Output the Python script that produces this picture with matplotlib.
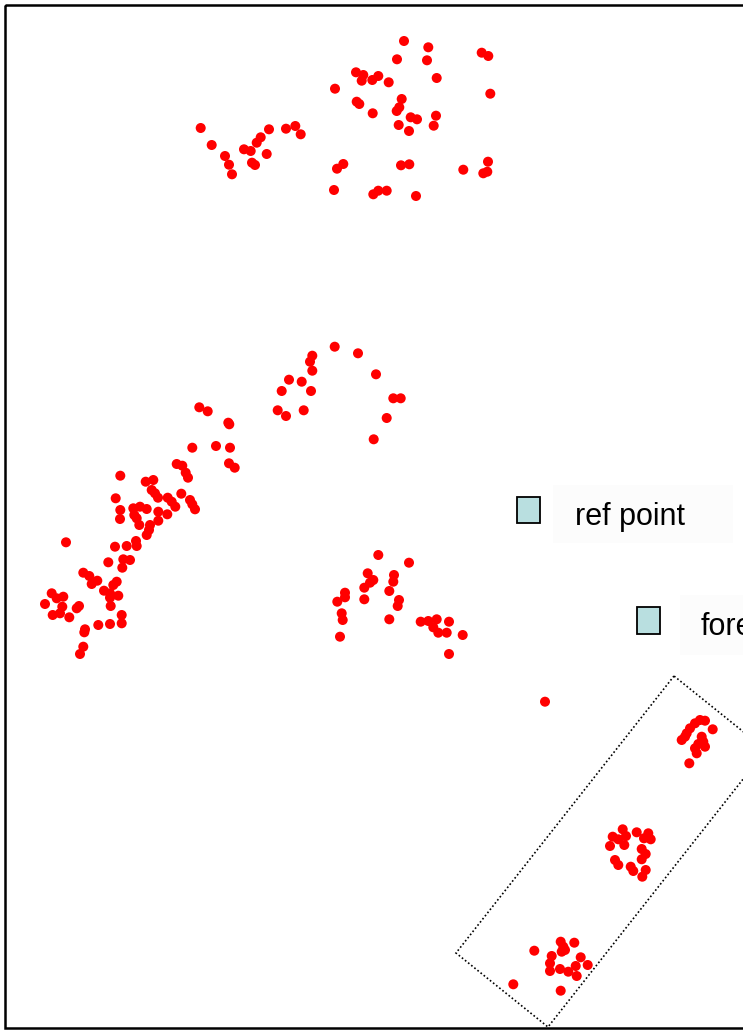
import matplotlib
matplotlib.use("Agg")
import matplotlib.pyplot as plt
from matplotlib.patches import Rectangle, Polygon

# Point positions (image-space units: x to the right, y downward)
x_top = [404, 428.3, 397, 427, 481.7, 488.3, 356, 363.3, 361.7, 372.3, 378.3, 388.7, 436.7, 335,
         490.3, 356.7, 359.3, 372.7, 401.7, 396.7, 399.3, 410.7, 417, 436, 398.7, 409, 433.7,
         200.7, 211.7, 225, 229, 232, 244, 250.7, 256.7, 260.7, 269, 266.7, 252, 255, 286, 295.3,
         300.7, 337, 343.3, 334, 401, 409.3, 463.3, 488, 483.3, 487.3, 373.3, 378.3, 386.7, 416]
y_top = [41, 47.3, 59.3, 60.3, 52.7, 56, 72.3, 75, 80.7, 80, 76, 82.3, 78, 88.7,
         93.7, 101.7, 104, 113.3, 99, 111, 107.3, 117.3, 119.3, 115.7, 125, 131, 125.7,
         128, 145, 156, 164.7, 174.3, 149.3, 151, 142.7, 137.3, 129.3, 154, 162.7, 165, 128.7, 126,
         134.3, 168.7, 164, 190, 165.3, 164.3, 169.7, 161.7, 173.3, 171.7, 194.3, 190.7, 190.7, 196]

x_mid = [334.7, 358, 312.3, 310, 312.3, 289, 301.7, 281.7, 311, 376, 393.3, 400.7, 277.7, 286,
         303.7, 386.7, 373.7, 199.3, 207.7, 229.3, 228.3, 192.3, 216, 230, 229, 234.7, 176.7, 182.3,
         185.7, 188, 120.3, 145.7, 153.3, 151.7, 155, 158, 181.3, 167.7, 171.7, 175.3, 190, 192.3,
         195, 115.7, 120.3, 120, 133.3, 140, 146.7, 134.3, 136.7, 139.3, 158.3, 167.3, 158.3, 150,
         149, 146.7, 66, 115, 126.7, 136, 136.7, 108.3, 123.3, 130, 122.3, 83.3, 89.3, 91.7, 97.3,
         116.7, 113.3, 104, 110, 110, 118.3, 110.7, 51.7, 45, 56.7, 63.3, 62.3, 52.7, 60, 69.3,
         76.7, 79, 121.7, 121.7, 110, 98.3, 85, 84.3, 83.3, 80]
y_mid = [346.7, 353.3, 355.7, 361.7, 370.7, 379.7, 381.7, 391, 391, 374.3, 398.3, 398.3, 410.3, 416,
         410.3, 418, 439.3, 407.3, 411.3, 424.3, 422.7, 447.7, 446, 447.7, 463.3, 467.7, 464, 465.7,
         472.7, 477.7, 475.7, 481.7, 480, 490, 493.3, 497.7, 493.7, 497.7, 501.7, 506.7, 500, 504.3,
         509.3, 498.3, 510, 519, 508.3, 506.7, 509, 515, 518.3, 525, 511.7, 514.3, 520.7, 525,
         530, 535, 542.3, 546.7, 546, 541, 546, 562.3, 559.3, 560, 567.7, 572.7, 576, 584, 580.7,
         581.7, 585, 590.7, 593.3, 597.7, 595.7, 606, 593.3, 604, 598.3, 596.7, 606.7, 615, 613.3, 617.3,
         608.3, 606, 615, 623.3, 624, 625, 629.3, 632.3, 646.7, 654]

x_low = [378.3, 409, 367.7, 373.3, 370, 364.3, 394, 393.3, 389.3, 345, 345, 337.3, 364.3, 399,
         397.7, 341.7, 342.7, 389.3, 340, 420.7, 428.3, 436.7, 433.3, 438.3, 446.7, 449, 462.7, 449,
         545]
y_low = [555, 562.7, 573.3, 580, 582.7, 587.7, 575, 581.7, 591, 592.7, 597.3, 601.7, 599.3, 600,
         606, 613.3, 620, 619.3, 636.7, 621.7, 621, 619.3, 627.3, 632.7, 632.7, 621.7, 635, 654,
         701.7]

x_box = [700, 705, 695, 690, 686.7, 681.7, 685, 712.7, 701.7, 703.3, 698.3, 705, 695, 696.7, 689.3,
         622.7, 612.7, 618.3, 626, 636.7, 648.3, 650.7, 644, 610, 624.3, 641.7, 645.7, 641.7, 615,
         618.3, 630.7, 633.3, 645.7, 642.3,
         560.7, 563.3, 561.7, 565, 574.3, 534.3, 551.7, 550, 580.7, 587.7, 560, 568.3, 575.7, 576.7,
         550, 513.3, 560.7]
y_box = [720, 720.7, 723.3, 728.3, 733.3, 740, 736.7, 729.3, 736.7, 741.7, 744, 746.7, 748.3, 753.3, 763.3,
         829.3, 836.7, 839.3, 836, 832.3, 833.3, 839.3, 838.3, 846, 845, 849, 854, 859.3, 860,
         865, 866.7, 871, 870, 876.7,
         941.7, 946.7, 951.7, 950, 942.7, 950.7, 956, 963.3, 957.3, 965, 969, 971.7, 966, 976,
         971, 984.3, 990.7]

legend_labels = ["ref point", "forecast"]

fig = plt.figure(figsize=(7.43, 10.30), dpi=100)
ax = fig.add_axes([0, 0, 1, 1])
ax.set_xlim(0, 743)
ax.set_ylim(1030, 0)
ax.axis("off")

# outer frame
ax.add_patch(Rectangle((5, 5), 800, 1023, fill=False, edgecolor="black", lw=1.8, zorder=1))

# dotted selection box
ax.add_patch(Polygon([(674, 676), (456, 953), (548, 1027), (766, 750)], closed=True,
                     fill=False, edgecolor="black", lw=1.2, linestyle=(0, (1, 1.4)), zorder=2))

xs = x_top + x_mid + x_low + x_box
ys = y_top + y_mid + y_low + y_box
ax.scatter(xs, ys, s=52, c="#ff0000", marker="o", edgecolors="none", zorder=3)

# legend-like items
ax.add_patch(Rectangle((553, 485), 180, 58, facecolor="#fcfcfc", edgecolor="none", zorder=1))
ax.add_patch(Rectangle((680, 595), 100, 60, facecolor="#fcfcfc", edgecolor="none", zorder=1))
ax.add_patch(Rectangle((517, 497), 23, 26, facecolor="#b9dfe0", edgecolor="black", lw=1.3, zorder=4))
ax.add_patch(Rectangle((637, 607), 23, 27, facecolor="#b9dfe0", edgecolor="black", lw=1.3, zorder=4))
ax.text(575, 525, legend_labels[0], fontsize=22, family="Liberation Sans", va="baseline", ha="left", zorder=5)
ax.text(701, 635, legend_labels[1], fontsize=22, family="Liberation Sans", va="baseline", ha="left", zorder=5)

fig.savefig("out.png", dpi=100)
